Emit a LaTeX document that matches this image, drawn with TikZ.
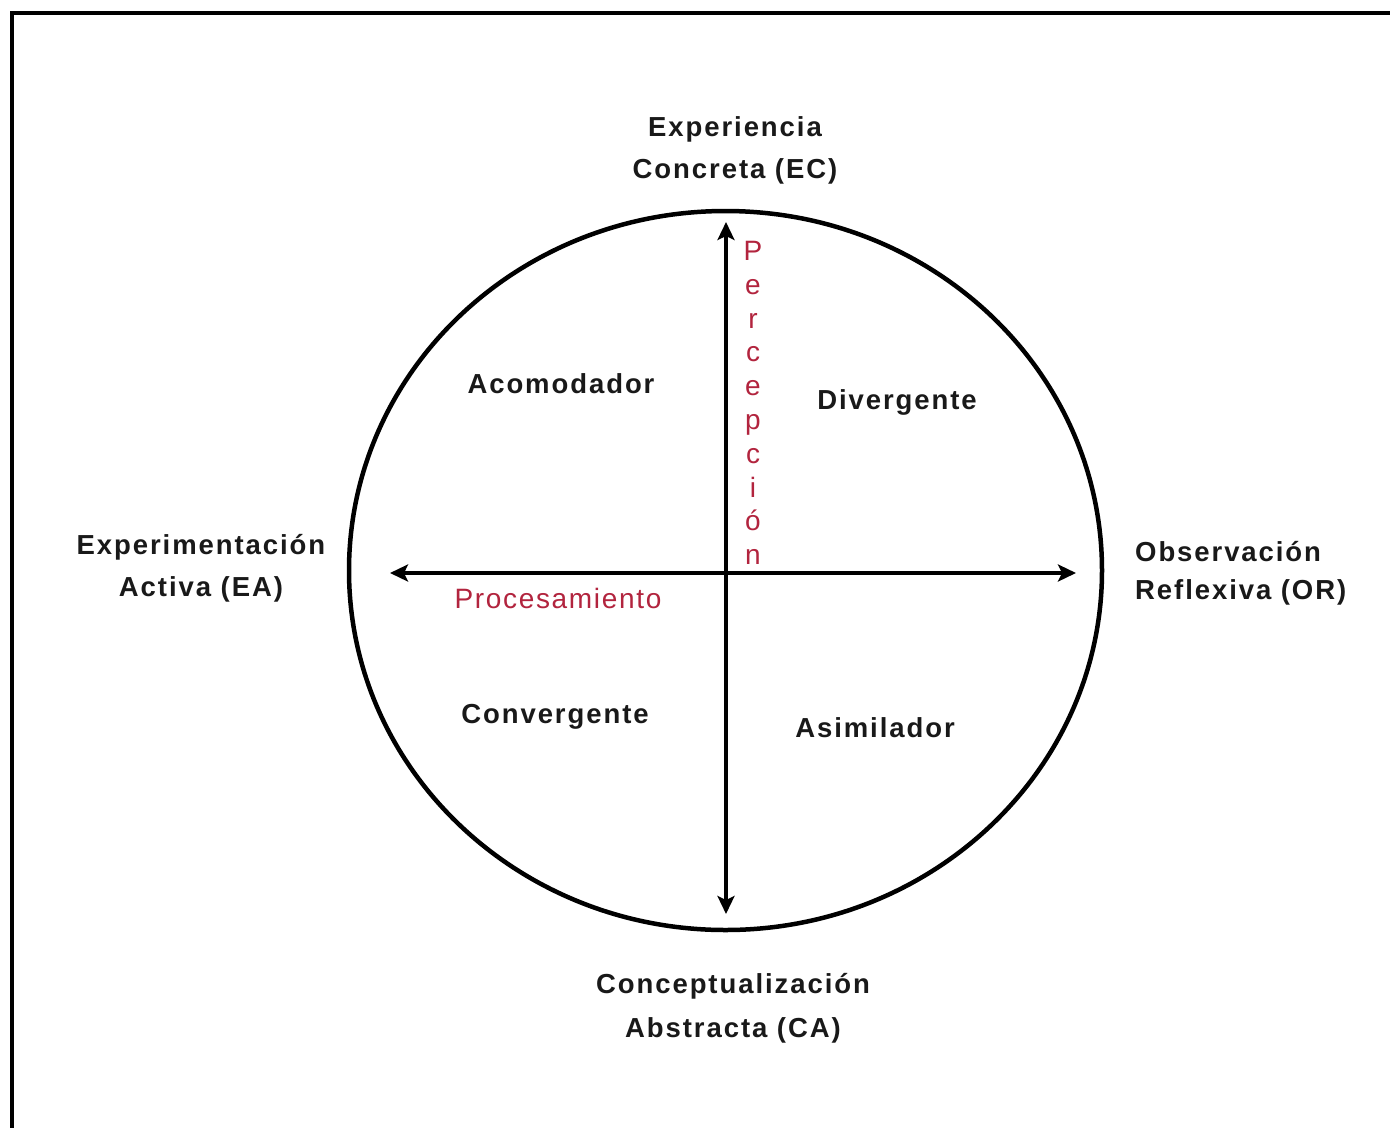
\documentclass[tikz,border=0pt]{standalone}
\usepackage{fontspec}
\setmainfont{Liberation Sans}
\usetikzlibrary{arrows.meta,shapes.geometric}
\definecolor{lbl}{RGB}{25,25,25}
\definecolor{redlbl}{RGB}{178,36,62}
\tikzset{
  lab/.style={text=lbl, inner sep=0pt, align=center,
    font=\fontsize{27.5}{42}\selectfont\bfseries\addfontfeatures{LetterSpace=7}},
  redtxt/.style={text=redlbl, inner sep=0pt, align=center,
    font=\fontsize{28}{33.8}\selectfont\addfontfeatures{LetterSpace=6}},
  axis/.style={line width=4pt, draw=black, {Stealth[length=18pt,width=17pt,inset=4pt]}-{Stealth[length=18pt,width=17pt,inset=4pt]}},
  frameline/.style={line width=4pt, draw=black}
}
\begin{document}
\begin{tikzpicture}[x=1pt,y=-1pt]
\useasboundingbox (0,0) rectangle (1390,1128);
\fill[white] (0,0) rectangle (1390,1128);
% frame (top and left edges)
\coordinate (ftl) at (12,13);
\coordinate (ftr) at (1390,13);
\coordinate (fbl) at (12,1128);
\draw[frameline] (ftr) -- (ftl) -- (fbl);
% circle
\node[draw=black, line width=4.5pt, ellipse, minimum width=753pt, minimum height=719pt, inner sep=0pt] (circ) at (725.5,570.5) {};
% axes
\coordinate (top) at (726,222);
\coordinate (bot) at (726,914);
\coordinate (lft) at (390,573);
\coordinate (rgt) at (1076,573);
\draw[axis] (top) -- (bot);
\draw[axis] (lft) -- (rgt);
% pole labels
\node[lab] (ec) at (735,150) {Experiencia\\Concreta (EC)};
\node[lab, font=\fontsize{27.5}{44}\selectfont\bfseries\addfontfeatures{LetterSpace=7}] (ca) at (733,1008) {Conceptualización\\Abstracta (CA)};
\node[lab] (ea) at (201,568) {Experimentación\\Activa (EA)};
\node[lab, align=left, anchor=west, font=\fontsize{27.5}{38}\selectfont\bfseries\addfontfeatures{LetterSpace=7}] (or) at (1135,573) {Observación\\Reflexiva (OR)};
% quadrant labels
\node[lab] (acom) at (561,384) {Acomodador};
\node[lab] (div) at (897,402) {Divergente};
\node[lab] (conv) at (555,717) {Convergente};
\node[lab] (asim) at (875,728) {Asimilador};
% red labels
\node[redtxt] (proc) at (558,598) {Procesamiento};
\node[redtxt] (perc) at (753,403) {P\\e\\r\\c\\e\\p\\c\\i\\ó\\n};
\end{tikzpicture}
\end{document}
